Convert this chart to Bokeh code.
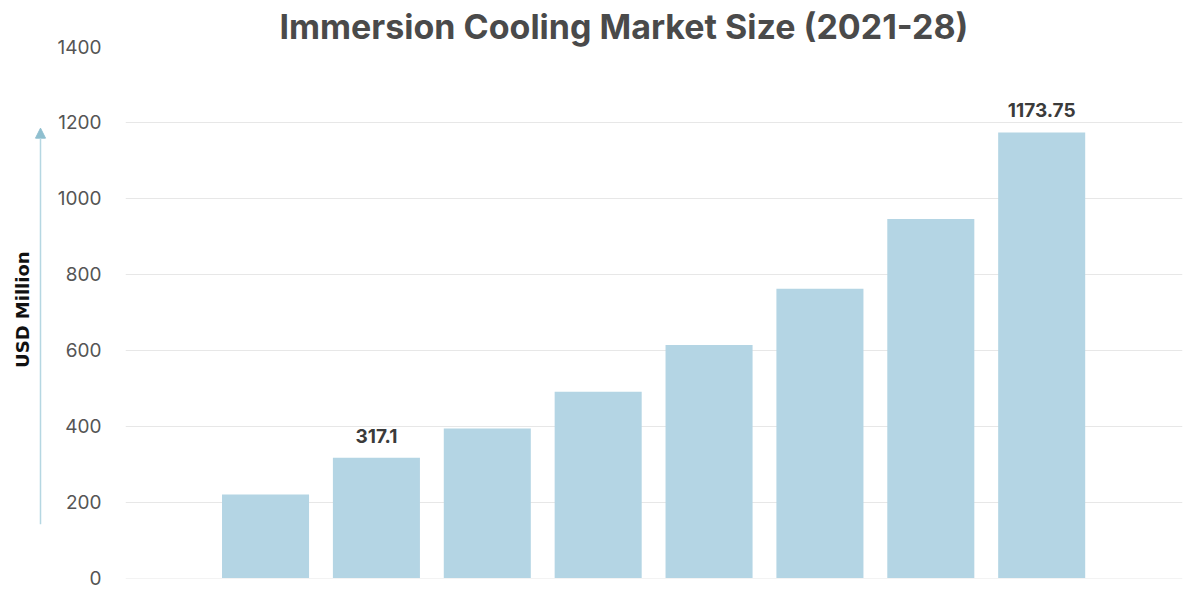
from bokeh.plotting import figure
from bokeh.layouts import row
from bokeh.models import ColumnDataSource, Range1d, FixedTicker, Arrow, NormalHead, Title
from bokeh.core.properties import value
from bokeh.embed import file_html
from bokeh.resources import INLINE
import math

# ---- data ----
years = [2021, 2022, 2023, 2024, 2025, 2026, 2027, 2028]
market_size = [220.0, 317.1, 394.0, 491.0, 614.0, 762.0, 946.0, 1173.75]
labelled_years = [2022, 2028]
title_text = "Immersion Cooling Market Size (2021-28)"
y_label = "USD Million"
y_ticks = [0, 200, 400, 600, 800, 1000, 1200, 1400]

FONT = "Inter"
BAR = "#b4d5e4"
TOP, BOTTOM = 46, 14
H = 592

yr = Range1d(-1, 1400)

# ---- main chart ----
p = figure(width=1144, height=H, output_backend="svg", toolbar_location=None,
           x_range=Range1d(2019.737, 2029.27), y_range=yr,
           min_border_left=77, min_border_right=10, min_border_top=TOP,
           min_border_bottom=BOTTOM, outline_line_color=None)

p.title = Title(text=title_text, align="left", text_font=FONT,
                text_font_size="34px", text_font_style="bold",
                text_color="#4a4a4a", offset=154, standoff=0)

src = ColumnDataSource(dict(x=years, top=market_size))
p.vbar(x="x", top="top", bottom=0, width=0.785, source=src,
       fill_color=BAR, line_color=None)

lab_idx = [years.index(y) for y in labelled_years]
lsrc = ColumnDataSource(dict(
    x=[years[i] for i in lab_idx],
    y=[market_size[i] for i in lab_idx],
    t=[f"{market_size[i]:g}" for i in lab_idx]))
p.text(x="x", y="y", text="t", source=lsrc, text_align="center",
       text_baseline="bottom", y_offset=-15, text_font=value(FONT),
       text_font_size="19px", text_font_style="bold", text_color="#3b3b3b")

p.xaxis.visible = False
p.xgrid.grid_line_color = None
p.ygrid.grid_line_color = "#e7e7e7"
p.ygrid.grid_line_width = 1
p.yaxis.ticker = FixedTicker(ticks=y_ticks)
p.yaxis.axis_line_color = None
p.yaxis.major_tick_line_color = None
p.yaxis.minor_tick_line_color = None
p.yaxis.major_label_text_font = FONT
p.yaxis.major_label_text_font_size = "19px"
p.yaxis.major_label_text_color = "#555555"
p.yaxis.major_label_standoff = 18

# ---- left strip: axis title and arrow ----
q = figure(width=48, height=H, output_backend="svg", toolbar_location=None,
           x_range=Range1d(0, 48), y_range=yr,
           min_border_left=0, min_border_right=0, min_border_top=TOP,
           min_border_bottom=BOTTOM, outline_line_color=None)
q.axis.visible = False
q.grid.grid_line_color = None
q.text(x=[22], y=[707], text=[y_label], angle=math.pi / 2,
       text_align="center", text_baseline="middle",
       text_font=value("DejaVu Sans"), text_font_size="18px",
       text_font_style="bold", text_color="#111111")
q.add_layout(Arrow(x_start=40, y_start=142, x_end=40, y_end=1185,
                   line_color="#b5d7e2", line_width=1.5,
                   end=NormalHead(size=10, fill_color="#8fbfcf", line_color="#8fbfcf")))

layout = row(q, p, spacing=0)
open("out.html", "w").write(file_html(layout, INLINE))
